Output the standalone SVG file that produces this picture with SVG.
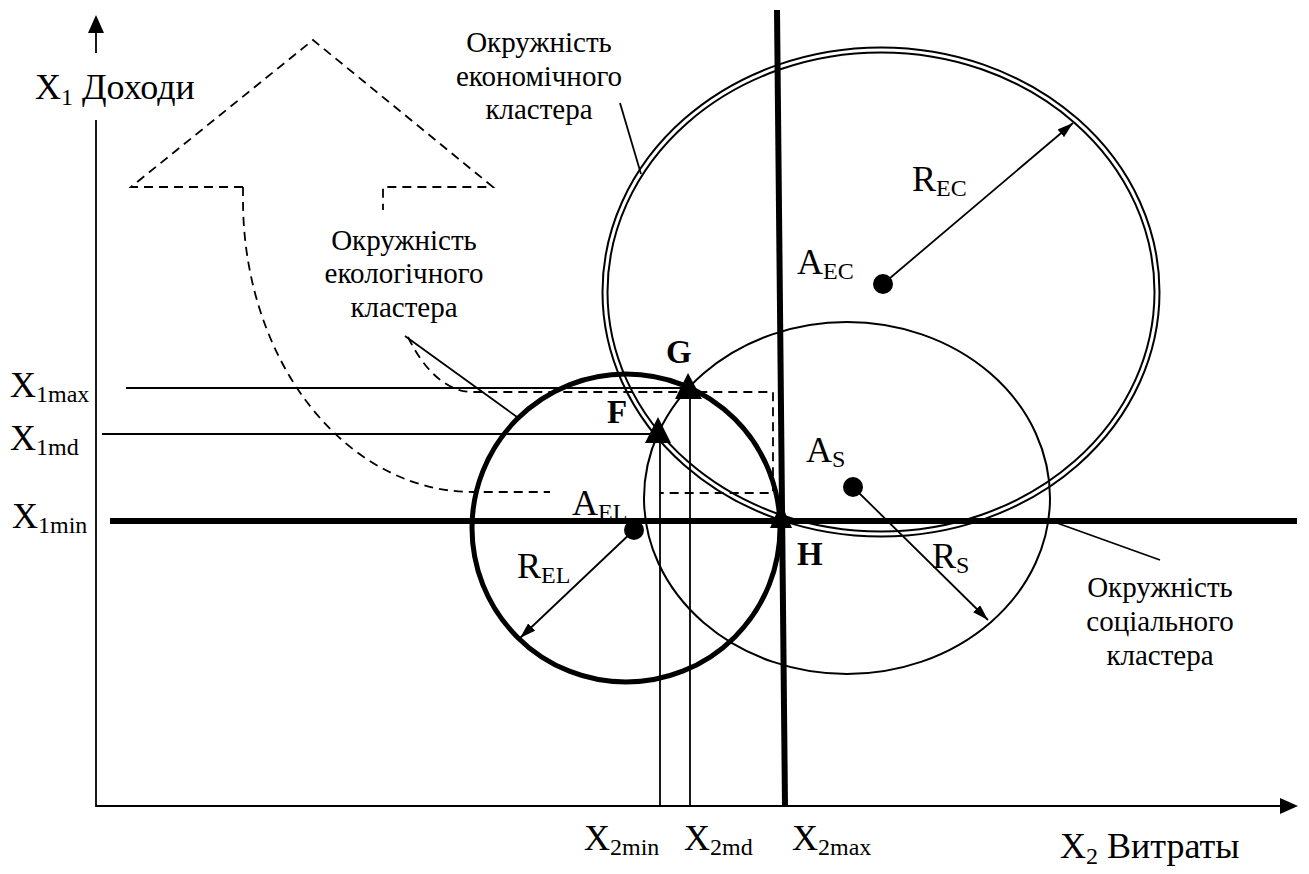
<svg xmlns="http://www.w3.org/2000/svg" width="1309" height="874" viewBox="0 0 1309 874">
<style>
text{font-family:"Liberation Serif","DejaVu Serif",serif;fill:#000}
.lbl{font-size:36px}
.sub{font-size:24px}
.cap{font-size:29px;text-anchor:middle}
.pt{font-size:33px;font-weight:bold}
.thin{stroke:#000;stroke-width:1.8;fill:none}
.thick{stroke:#000;stroke-width:6;fill:none}
.dash{stroke:#000;stroke-width:1.8;fill:none;stroke-dasharray:9 6}
</style>
<defs>
<marker id="ah" viewBox="0 0 16 10" refX="16" refY="5" markerWidth="16" markerHeight="10" markerUnits="userSpaceOnUse" orient="auto">
<path d="M0,0 L16,5 L0,10 Z" fill="#000"/>
</marker>
</defs>
<rect width="1309" height="874" fill="#fff"/>

<g id="axes">
<line class="thin" x1="96" y1="32" x2="96" y2="53" stroke-width="2"/>
<path d="M96,15 L104,33 L88,33 Z" fill="#000"/>
<polyline class="thin" points="96,120 96,806 1282,806" stroke-width="2.2"/>
<path d="M1298,806 L1280,798 L1280,814 Z" fill="#000"/>
</g>

<g id="dashed-arrow">
<path class="dash" d="M243,187 L131,187 L313,40 L493,187 L383,187 L383,210"/>
<path class="dash" d="M243,187 L243,200 A230,292 0 0 0 473,492 L550,492"/>
<path class="dash" d="M408,337 A90,182 0 0 0 473,392 L773,392 L773,493 L660,493"/>
</g>

<g id="guides">
<line class="thin" x1="126" y1="388" x2="690" y2="388"/>
<line class="thin" x1="102" y1="434" x2="658" y2="434"/>
<line class="thin" x1="660" y1="434" x2="660" y2="806"/>
<line class="thin" x1="690" y1="388" x2="690" y2="806"/>
<line class="thick" x1="110" y1="521" x2="1297" y2="521"/>
<line class="thick" x1="777" y1="10" x2="785" y2="806"/>
</g>

<g id="economic-cluster">
<ellipse cx="881" cy="292" rx="278.5" ry="244.5" fill="none" stroke="#000" stroke-width="2"/>
<ellipse cx="881" cy="292" rx="273.5" ry="239.5" fill="none" stroke="#000" stroke-width="2"/>
<circle cx="883" cy="284" r="10"/>
<text class="lbl" x="797" y="274">A<tspan class="sub" dy="5">EC</tspan></text>
<text class="lbl" x="912" y="191">R<tspan class="sub" dy="5">EC</tspan></text>
</g>

<g id="social-cluster">
<ellipse cx="847" cy="498" rx="203" ry="176" fill="none" stroke="#000" stroke-width="2"/>
<circle cx="853" cy="487" r="10"/>
<text class="lbl" x="806" y="462">A<tspan class="sub" dy="5">S</tspan></text>
<text class="lbl" x="932" y="568">R<tspan class="sub" dy="5">S</tspan></text>
</g>

<g id="ecological-cluster">
<circle cx="626" cy="528" r="154" fill="none" stroke="#000" stroke-width="5"/>
<circle cx="634" cy="530" r="10"/>
<text class="lbl" x="572" y="515">A<tspan class="sub" dy="5">EL</tspan></text>
<text class="lbl" x="517" y="578">R<tspan class="sub" dy="5">EL</tspan></text>
</g>

<g id="points">
<path d="M658,417 L671,443 L645,443 Z" fill="#000"/>
<path d="M688,373 L702,399 L675,399 Z" fill="#000"/>
<path d="M781,503 L792,528 L770,528 Z" fill="#000"/>
<text class="pt" x="607" y="423">F</text>
<text class="pt" x="666" y="363">G</text>
<text class="pt" x="797" y="565">H</text>
</g>

<g id="connectors">
<line class="thin" x1="883" y1="284" x2="1073" y2="123" marker-end="url(#ah)"/>
<line class="thin" x1="853" y1="487" x2="988" y2="620" marker-end="url(#ah)"/>
<line class="thin" x1="634" y1="530" x2="520" y2="638" marker-end="url(#ah)"/>
<line class="thin" x1="620" y1="103" x2="641" y2="174"/>
<line class="thin" x1="405" y1="336" x2="517" y2="417"/>
<line class="thin" x1="1057" y1="523" x2="1160" y2="560"/>
</g>

<g id="labels">
<text class="lbl" x="35" y="99">X<tspan class="sub" dy="6">1</tspan><tspan dy="-6"> Доходи</tspan></text>
<text class="lbl" x="10" y="397">X<tspan class="sub" dy="5">1max</tspan></text>
<text class="lbl" x="10" y="450">X<tspan class="sub" dy="5">1md</tspan></text>
<text class="lbl" x="12" y="528">X<tspan class="sub" dy="5">1min</tspan></text>
<text class="lbl" x="584" y="850">X<tspan class="sub" dy="5">2min</tspan></text>
<text class="lbl" x="684" y="850">X<tspan class="sub" dy="5">2md</tspan></text>
<text class="lbl" x="792" y="850">X<tspan class="sub" dy="5">2max</tspan></text>
<text class="lbl" x="1060" y="858">X<tspan class="sub" dy="6">2</tspan><tspan dy="-6"> Витраты</tspan></text>
<text class="cap" x="539" y="52">Окружність</text>
<text class="cap" x="539" y="86">економічного</text>
<text class="cap" x="539" y="119">кластера</text>
<text class="cap" x="404" y="250">Окружність</text>
<text class="cap" x="404" y="283">екологічного</text>
<text class="cap" x="404" y="317">кластера</text>
<text class="cap" x="1160" y="597">Окружність</text>
<text class="cap" x="1160" y="631">соціального</text>
<text class="cap" x="1160" y="665">кластера</text>
</g>
</svg>
